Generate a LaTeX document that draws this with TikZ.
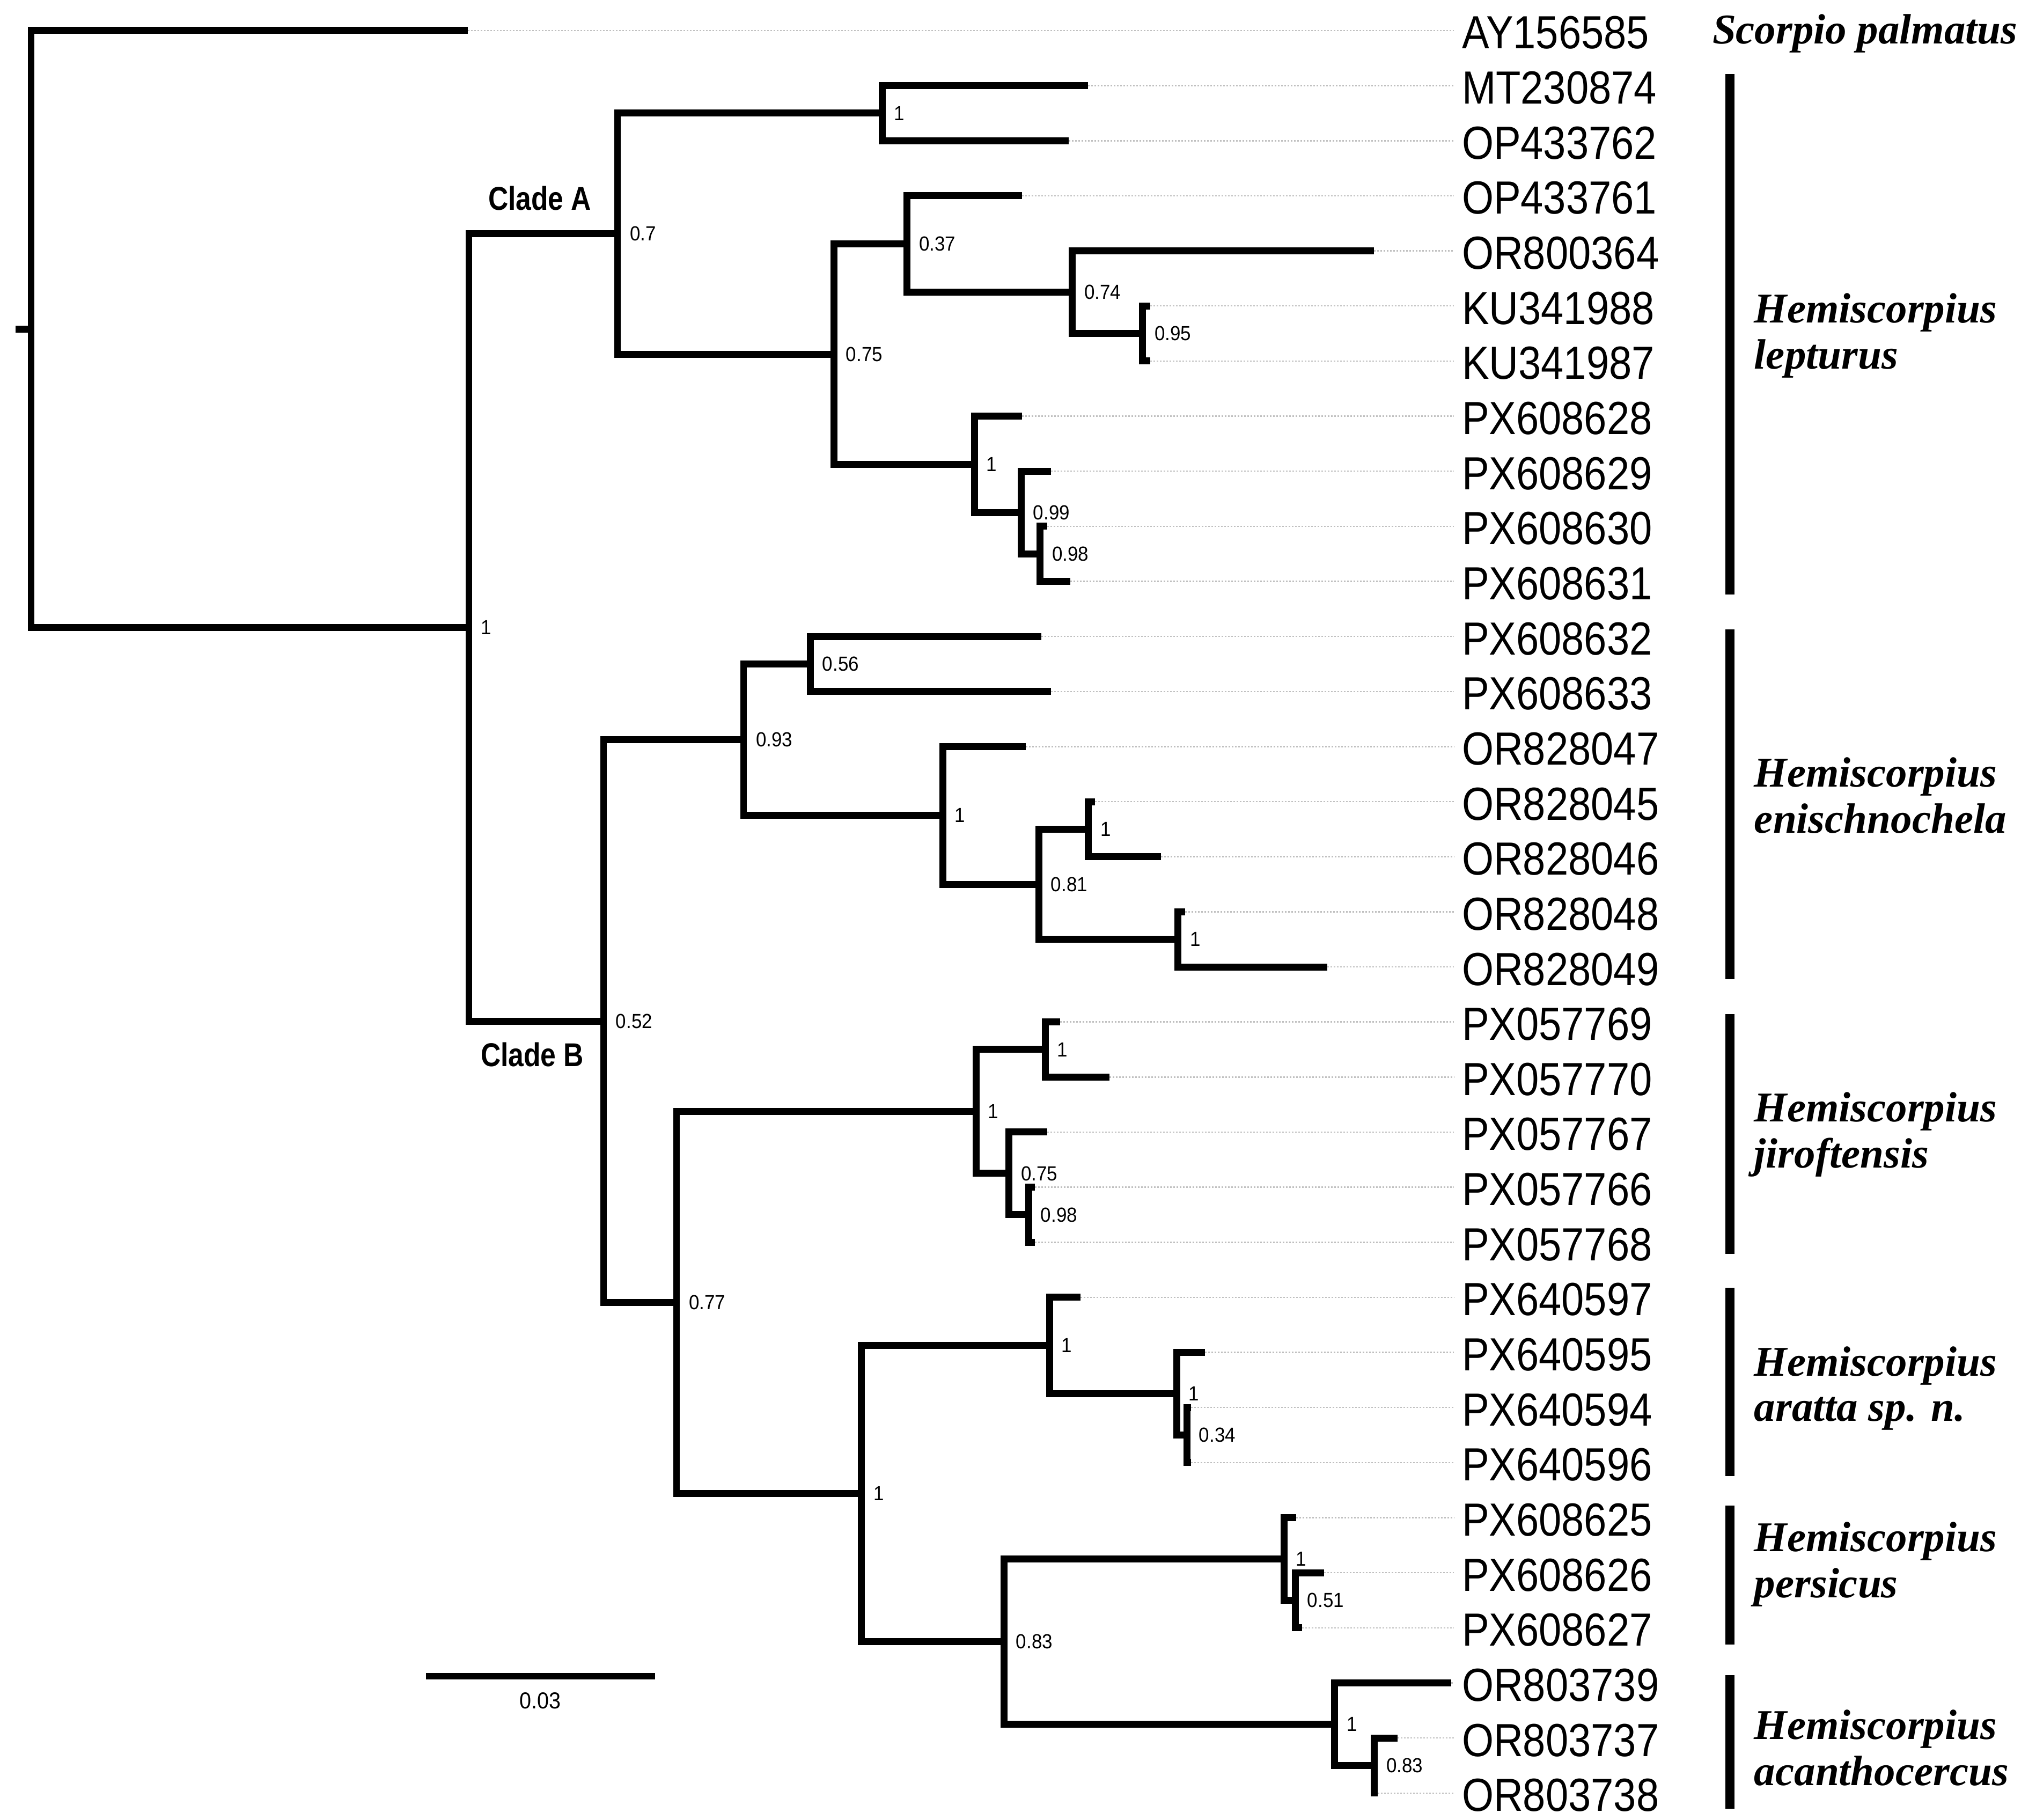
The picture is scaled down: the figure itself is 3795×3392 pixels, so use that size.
\documentclass[tikz,border=0pt]{standalone}
\usepackage{fontspec}
\newfontfamily\idfont[FakeStretch=0.877]{Liberation Sans}
\newfontfamily\supfont[FakeStretch=0.92]{Liberation Sans}
\newfontfamily\cladefont[FakeStretch=0.84]{Liberation Sans}
\newfontfamily\spfont{Liberation Serif}
\begin{document}
\begin{tikzpicture}[x=0.1pt,y=-0.1pt,
  br/.style={line width=1.3pt, line join=miter, black},
  scalebar/.style={line width=1.2pt, black},
  guide/.style={line width=0.25pt, color=gray!50, dash pattern=on 0.3pt off 0.3pt},
  idlab/.style={anchor=base west, inner sep=0pt, font=\idfont\fontsize{8.66pt}{10pt}\selectfont},
  suplab/.style={anchor=west, inner sep=0pt, font=\supfont\fontsize{3.8pt}{4.5pt}\selectfont},
  sclab/.style={anchor=base, inner sep=0pt, font=\supfont\fontsize{4.3pt}{5pt}\selectfont},
  splab/.style={anchor=base west, inner sep=0pt, font=\spfont\bfseries\itshape\fontsize{7.9pt}{9pt}\selectfont},
  cladelab/.style={anchor=base west, inner sep=0pt, font=\cladefont\bfseries\fontsize{6.15pt}{7pt}\selectfont},
  groupbar/.style={line width=1.7pt, black}]
\useasboundingbox (0,0) rectangle (3795,3392);
\fill[white] (0,0) rectangle (3795,3392);

% guide end
\coordinate (G) at (2710,0);

% leaves
\foreach \i/\nm/\tx in {0/AY156585/872, 1/MT230874/2028, 2/OP433762/1992, 3/OP433761/1905,
  4/OR800364/2561, 5/KU341988/2144, 6/KU341987/2144, 7/PX608628/1905, 8/PX608629/1959,
  9/PX608630/1952, 10/PX608631/1995, 11/PX608632/1941, 12/PX608633/1959, 13/OR828047/1912,
  14/OR828045/2041, 15/OR828046/2164, 16/OR828048/2209, 17/OR828049/2474, 18/PX057769/1976,
  19/PX057770/2068, 20/PX057767/1952, 21/PX057766/1929, 22/PX057768/1929, 23/PX640597/2014,
  24/PX640595/2246, 25/PX640594/2220, 26/PX640596/2220, 27/PX608625/2416, 28/PX608626/2468,
  29/PX608627/2427, 30/OR803739/2705, 31/OR803737/2605, 32/OR803738/2568} {
  \coordinate (L\i) at (\tx, {57+102.65*\i});
  \node[idlab] (id\i) at (2723, {57+102.65*\i+34}) {\nm};
  \draw[guide] (L\i) -- (L\i -| G);
}

% internal nodes
\coordinate (S) at (29,613.2);
\coordinate (R) at (58,613.2);
\coordinate (I) at (874,1169.3);
\coordinate (A) at (1151,435.5);
\coordinate (nMO) at (1644,211.0);
\coordinate (n075) at (1554,660.1);
\coordinate (n037) at (1690,454.8);
\coordinate (n074) at (1998,544.6);
\coordinate (n095) at (2129,621.6);
\coordinate (n1b) at (1816,865.4);
\coordinate (n099) at (1903,955.2);
\coordinate (n098) at (1938,1032.2);
\coordinate (B) at (1125,1903.1);
\coordinate (n093) at (1386,1378.6);
\coordinate (n056) at (1510,1237.5);
\coordinate (n1e) at (1757,1519.8);
\coordinate (n081) at (1936,1648.1);
\coordinate (n1f) at (2028,1545.5);
\coordinate (n1g) at (2195,1750.8);
\coordinate (n077) at (1261,2427.6);
\coordinate (n1j) at (1819,2071.5);
\coordinate (n1h) at (1948,1956.0);
\coordinate (n075b) at (1880,2187.0);
\coordinate (n098b) at (1917,2264.0);
\coordinate (n1k) at (1605,2783.7);
\coordinate (n1l) at (1956,2507.8);
\coordinate (n1m) at (2193,2597.6);
\coordinate (n034) at (2212,2674.6);
\coordinate (n083) at (1871,3059.6);
\coordinate (n1p) at (2393,2905.6);
\coordinate (n051) at (2414,2982.6);
\coordinate (n1q) at (2487,3213.5);
\coordinate (n083b) at (2561,3290.5);

% branches
\draw[br] (S) -- (R);
\foreach \p/\c in {R/L0, R/I, I/A, I/B, A/nMO, A/n075, nMO/L1, nMO/L2,
  n075/n037, n075/n1b, n037/L3, n037/n074, n074/L4, n074/n095, n095/L5, n095/L6,
  n1b/L7, n1b/n099, n099/L8, n099/n098, n098/L9, n098/L10,
  B/n093, B/n077, n093/n056, n093/n1e, n056/L11, n056/L12, n1e/L13, n1e/n081,
  n081/n1f, n081/n1g, n1f/L14, n1f/L15, n1g/L16, n1g/L17,
  n077/n1j, n077/n1k, n1j/n1h, n1j/n075b, n1h/L18, n1h/L19, n075b/L20, n075b/n098b,
  n098b/L21, n098b/L22, n1k/n1l, n1k/n083, n1l/L23, n1l/n1m, n1m/L24, n1m/n034,
  n034/L25, n034/L26, n083/n1p, n083/n1q, n1p/L27, n1p/n051, n051/L28, n051/L29,
  n1q/L30, n1q/n083b, n083b/L31, n083b/L32} {
  \draw[br] (\p) |- (\c);
}

% support values
\foreach \n/\v in {I/1, A/0.7, nMO/1, n075/0.75, n037/0.37, n074/0.74, n095/0.95,
  n1b/1, n099/0.99, n098/0.98, B/0.52, n093/0.93, n056/0.56, n1e/1, n081/0.81,
  n1f/1, n1g/1, n077/0.77, n1j/1, n1h/1, n075b/0.75, n098b/0.98, n1k/1, n1l/1,
  n1m/1, n034/0.34, n083/0.83, n1p/1, n051/0.51, n1q/1, n083b/0.83} {
  \node[suplab] (s\n) at ([xshift=2.1pt]\n) {\v};
}

% clade labels
\node[cladelab] (cladeA) at (908,392) {Clade A};
\node[cladelab] (cladeB) at (894,1988) {Clade B};

% scale bar
\coordinate (sb1) at (794,3124);
\coordinate (sb2) at (1221,3124);
\draw[scalebar] (sb1) -- (sb2);
\node[sclab] (sbl) at (1007,3185) {0.03};

% group bars
\foreach \k/\t/\b in {1/138/1108, 2/1173/1825, 3/1890/2337, 4/2400/2751, 5/2806/3065, 6/3122/3371} {
  \coordinate (bt\k) at (3224,\t);
  \coordinate (bb\k) at (3224,\b);
  \draw[groupbar] (bt\k) -- (bb\k);
}

% species names
\node[splab] (sp0) at (3190,82) {Scorpio palmatus};
\node[splab] (sp1a) at (3268,602) {Hemiscorpius};
\node[splab] (sp1b) at (3268,688) {lepturus};
\node[splab] (sp2a) at (3268,1467) {Hemiscorpius};
\node[splab] (sp2b) at (3268,1553) {enischnochela};
\node[splab] (sp3a) at (3268,2091) {Hemiscorpius};
\node[splab] (sp3b) at (3268,2177) {jiroftensis};
\node[splab] (sp4a) at (3268,2565) {Hemiscorpius};
\node[splab] (sp4b) at (3268,2649) {aratta sp. n.};
\node[splab] (sp5a) at (3268,2892) {Hemiscorpius};
\node[splab] (sp5b) at (3268,2978) {persicus};
\node[splab] (sp6a) at (3268,3242) {Hemiscorpius};
\node[splab] (sp6b) at (3268,3328) {acanthocercus};
\end{tikzpicture}
\end{document}
